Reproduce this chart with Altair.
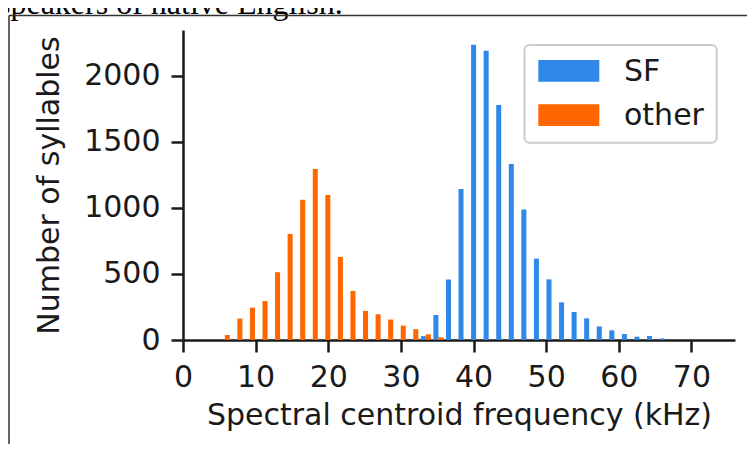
import altair as alt
import pandas as pd

# histogram bin edges (kHz), 36 bins
bin_edges = [4.89, 6.62, 8.35, 10.08, 11.81, 13.54, 15.27, 17.00, 18.73, 20.46,
             22.19, 23.92, 25.65, 27.38, 29.11, 30.84, 32.57, 34.30, 36.03, 37.76,
             39.49, 41.22, 42.95, 44.68, 46.41, 48.14, 49.87, 51.60, 53.33, 55.06,
             56.79, 58.52, 60.25, 61.98, 63.71, 65.44, 67.17]

series_names = ["SF", "other"]
series_colors = ["#2f88e8", "#ff6600"]

sf_counts = [0, 0, 0, 0, 0, 0, 0, 0, 0, 0, 0, 0, 0, 0, 0, 0,
             29, 189, 458, 1144, 2235, 2189, 1780, 1333, 988, 616,
             459, 285, 212, 164, 103, 73, 45, 25, 30, 12]
other_counts = [38, 162, 245, 295, 513, 803, 1061, 1295, 1098, 629,
                371, 220, 195, 155, 109, 82, 43, 20,
                0, 0, 0, 0, 0, 0, 0, 0, 0, 0, 0, 0, 0, 0, 0, 0, 0, 0]

x_ticks = [0, 10, 20, 30, 40, 50, 60, 70]
y_ticks = [0, 500, 1000, 1500, 2000]

# side-by-side histogram layout (two datasets share each bin, 80% of bin used)
rows = []
for j, (name, counts) in enumerate(zip(series_names, [sf_counts, other_counts])):
    for i, c in enumerate(counts):
        if c <= 0:
            continue
        lo, hi = bin_edges[i], bin_edges[i + 1]
        bw = hi - lo
        x0 = lo + bw * (0.1 + 0.4 * j)
        rows.append({"series": name, "x0": x0, "x1": x0 + 0.4 * bw,
                     "count": c, "base": 0})
df = pd.DataFrame(rows)

FONT = "DejaVu Sans"
INK = "#1a1a1a"

x_axis = alt.Axis(values=x_ticks, title="Spectral centroid frequency (kHz)",
                  format="d",
                  grid=False, tickSize=12, tickWidth=2.5, tickColor=INK,
                  domainColor=INK, domainWidth=2.5, labelFont=FONT,
                  labelFontSize=30, labelColor=INK, labelPadding=10,
                  labelFlush=False, labelOverlap=False,
                  titleFont=FONT, titleFontSize=30, titleFontWeight="normal",
                  titleColor=INK, titlePadding=8)
y_axis = alt.Axis(values=y_ticks, title="Number of syllables",
                  format="d",
                  grid=False, tickSize=12, tickWidth=2.5, tickColor=INK,
                  domainColor=INK, domainWidth=2.5, labelFont=FONT,
                  labelFontSize=30, labelColor=INK, labelPadding=11,
                  labelFlush=False, labelOverlap=False,
                  titleFont=FONT, titleFontSize=30, titleFontWeight="normal",
                  titleColor=INK, titlePadding=19)

bars = alt.Chart(df).mark_rect().encode(
    x=alt.X("x0:Q", scale=alt.Scale(domain=[0, 76], nice=False, zero=False), axis=x_axis),
    x2="x1:Q",
    y=alt.Y("count:Q", scale=alt.Scale(domain=[0, 2347], nice=False), axis=y_axis),
    y2="base:Q",
    color=alt.Color("series:N",
                    scale=alt.Scale(domain=series_names, range=series_colors),
                    legend=None),
)

one = pd.DataFrame({"a": [0]})

legend_box = alt.Chart(one).mark_rect(
    fill="white", stroke="#cccccc", strokeWidth=2, cornerRadius=5
).encode(x=alt.value(341.5), x2=alt.value(533.7), y=alt.value(15), y2=alt.value(112.7))

legend_layers = [legend_box]
patch_y = [(30, 51.7), (74.3, 96)]
text_y = [50.7, 95]
for name, col, (py0, py1), ty in zip(series_names, series_colors, patch_y, text_y):
    legend_layers.append(
        alt.Chart(one).mark_rect(fill=col).encode(
            x=alt.value(355.3), x2=alt.value(416.3), y=alt.value(py0), y2=alt.value(py1))
    )
    legend_layers.append(
        alt.Chart(pd.DataFrame({"t": [name]})).mark_text(
            font=FONT, fontSize=30, align="left", baseline="alphabetic", color=INK
        ).encode(text="t:N", x=alt.value(441), y=alt.value(ty))
    )

caption = alt.Chart(pd.DataFrame({"t": ["speakers of native English."]})).mark_text(
    font="Liberation Serif", fontSize=32, align="left", baseline="alphabetic", color="black"
).encode(text="t:N", x=alt.value(-185), y=alt.value(-16))

frame_top = alt.Chart(one).mark_rule(color="#333333", strokeWidth=1.5).encode(
    x=alt.value(-174), x2=alt.value(570), y=alt.value(-14.5))
frame_left = alt.Chart(one).mark_rule(color="#333333", strokeWidth=1.5).encode(
    x=alt.value(-174), y=alt.value(-14.5), y2=alt.value(420))

chart = alt.layer(bars, *legend_layers, caption, frame_top, frame_left).properties(
    width=552, height=310,
    autosize=alt.AutoSizeParams(type="none"),
    padding={"left": 175, "top": 22, "right": 12, "bottom": 104},
).configure_view(stroke=None)

chart.save("out.html", embed_options={"renderer": "svg", "actions": False})
